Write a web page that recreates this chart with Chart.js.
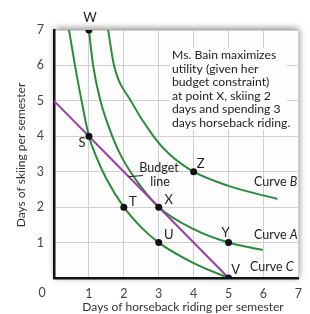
<!DOCTYPE html>
<html>
<head>
    <title>Chart</title>
    <script src="https://cdn.jsdelivr.net/npm/chart.js@4.4.1/dist/chart.umd.min.js"></script>
    <style>
        body { margin: 0; background: #fff; }
    </style>
</head>
<body>
    <div style="width: 310px; height: 314px;">
        <canvas id="ctx"></canvas>
    </div>

    <script>
        // curve points (days horseback, days skiing)
        const curveAx = [1.0, 1.12, 1.33, 1.67, 1.95, 2.4, 3.0, 4.0, 5.0, 5.98];
        const curveAy = [7.0, 6.0, 5.0, 4.0, 3.39, 2.7, 2.0, 1.38, 1.0, 0.79];
        const curveBx = [1.55, 1.72, 2.2, 2.85, 3.3, 4.0, 5.0, 6.4];
        const curveBy = [7.0, 6.0, 5.0, 4.0, 3.5, 3.0, 2.6, 2.23];
        const curveCx = [0.43, 0.6, 0.79, 1.0, 1.2, 1.5, 2.0, 2.5, 3.0, 4.0, 5.0];
        const curveCy = [7.0, 6.0, 5.0, 4.0, 3.45, 2.8, 2.0, 1.43, 1.0, 0.42, 0.0];
        const budgetX = [0, 5];
        const budgetY = [5, 0];

        const pointNames = ['W', 'S', 'T', 'X', 'U', 'Y', 'Z', 'V'];
        const pointX = [1, 1, 2, 3, 3, 5, 4, 5];
        const pointY = [7, 4, 2, 2, 1, 1, 3, 0];

        const tickValues = [1, 2, 3, 4, 5, 6, 7];
        const curveNames = ['B', 'A', 'C'];
        const note = ['Ms. Bain maximizes', 'utility (given her', 'budget constraint)',
            'at point X, skiing 2', 'days and spending 3', 'days horseback riding.'];
        const xTitle = 'Days of horseback riding per semester';
        const yTitle = 'Days of skiing per semester';

        const FONT = 'Lato';
        const GREEN = '#2b8a3b';
        const PURPLE = '#9a3fa3';

        const pts = (xs, ys) => xs.map((x, i) => ({x: x, y: ys[i]}));

        // pixel nudges for the letters next to the dots
        const labelOff = {W: [1, -12], S: [-7, 7], T: [9, -5], X: [10, -7], U: [10, -8], Y: [-3, -10], Z: [7, -8], V: [7, -8]};

        const frame = {
            id: 'frame',
            beforeDraw(chart) {
                const {ctx, chartArea: a} = chart;
                ctx.save();
                ctx.shadowColor = 'rgba(0,0,0,0.55)';
                ctx.shadowBlur = 7;
                ctx.shadowOffsetX = 1;
                ctx.shadowOffsetY = -1;
                ctx.fillStyle = '#fdfdfd';
                ctx.fillRect(a.left, a.top, a.right - a.left, a.bottom - a.top);
                ctx.restore();
            },
            beforeDatasetsDraw(chart) {
                const {ctx} = chart;
                ctx.save();
                // white box behind the note
                ctx.fillStyle = '#fdfdfd';
                ctx.fillRect(170, 48, 117, 82);
                ctx.fillStyle = '#222';
                ctx.font = '12.2px ' + FONT;
                ctx.textBaseline = 'middle';
                ctx.textAlign = 'left';
                note.forEach((t, i) => ctx.fillText(t, 172, 55 + i * 13.6));
                ctx.restore();
            },
            afterDatasetsDraw(chart) {
                const {ctx, scales: {x, y}} = chart;
                ctx.save();
                ctx.fillStyle = '#222';
                ctx.font = '13px ' + FONT;
                ctx.textAlign = 'center';
                ctx.textBaseline = 'middle';
                pointNames.forEach((n, i) => {
                    const o = labelOff[n];
                    ctx.fillText(n, x.getPixelForValue(pointX[i]) + o[0], y.getPixelForValue(pointY[i]) + o[1]);
                });

                // curve names
                const curvePos = [[254, 182], [254, 235], [250, 267]];
                ctx.textAlign = 'left';
                curveNames.forEach((c, i) => {
                    ctx.font = '12.5px ' + FONT;
                    ctx.fillText('Curve ', curvePos[i][0], curvePos[i][1]);
                    const w = ctx.measureText('Curve ').width;
                    ctx.font = 'italic 12.5px ' + FONT;
                    ctx.fillText(c, curvePos[i][0] + w, curvePos[i][1]);
                });

                // budget line label with leader
                ctx.font = '12.5px ' + FONT;
                ctx.textAlign = 'center';
                ctx.fillText('Budget', 159, 168);
                ctx.fillText('line', 160, 182);
                ctx.strokeStyle = '#222';
                ctx.lineWidth = 1;
                ctx.beginPath();
                ctx.moveTo(x.getPixelForValue(2.14), y.getPixelForValue(2.86));
                ctx.lineTo(143, 175.5);
                ctx.stroke();

                // shared origin label
                ctx.fillStyle = '#444';
                ctx.font = '12.5px ' + FONT;
                ctx.fillText('0', 42, 292.5);

                // axis titles
                ctx.fillStyle = '#333';
                ctx.font = '12px ' + FONT;
                ctx.fillText(xTitle, 183, 307);
                ctx.translate(21, 155);
                ctx.rotate(-Math.PI / 2);
                ctx.fillText(yTitle, 0, 0);
                ctx.restore();
            }
        };

        const curve = (data, color) => ({
            data: data,
            showLine: true,
            borderColor: color,
            borderWidth: 2,
            pointRadius: 0,
            cubicInterpolationMode: 'monotone',
            fill: false
        });

        var ctxx = new Chart(document.getElementById('ctx'), {
            type: 'scatter',
            data: {
                datasets: [
                    {
                        data: pts(pointX, pointY),
                        pointRadius: 3.5,
                        pointBackgroundColor: '#111',
                        pointBorderWidth: 0,
                        showLine: false
                    },
                    curve(pts(budgetX, budgetY), PURPLE),
                    curve(pts(curveAx, curveAy), GREEN),
                    curve(pts(curveBx, curveBy), GREEN),
                    curve(pts(curveCx, curveCy), GREEN)
                ]
            },
            options: {
                responsive: true,
                maintainAspectRatio: false,
                animation: false,
                layout: {padding: {top: 30, right: 10, left: 0, bottom: 0}},
                plugins: {
                    legend: {display: false},
                    tooltip: {enabled: false}
                },
                scales: {
                    x: {
                        min: 0, max: 7,
                        afterBuildTicks: s => { s.ticks = tickValues.map(v => ({value: v})); },
                        afterFit: s => { s.height = 36; },
                        grid: {color: '#cfcfcf', lineWidth: 1, drawTicks: false},
                        border: {color: '#111', width: 2.5},
                        ticks: {padding: 8, color: '#444', font: {family: FONT, size: 12.5}}
                    },
                    y: {
                        min: 0, max: 7,
                        afterBuildTicks: s => { s.ticks = tickValues.map(v => ({value: v})); },
                        afterFit: s => { s.width = 54; },
                        grid: {color: '#cfcfcf', lineWidth: 1, drawTicks: false},
                        border: {color: '#111', width: 2.5},
                        ticks: {padding: 10, color: '#444', font: {family: FONT, size: 12.5}}
                    }
                }
            },
            plugins: [frame]
        });
    </script>
</body>
</html>
